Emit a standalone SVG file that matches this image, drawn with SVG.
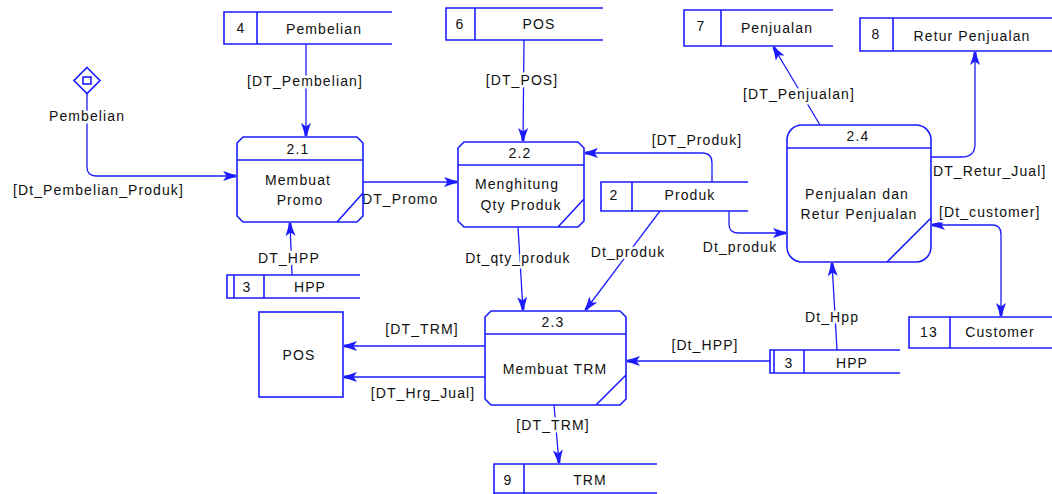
<svg xmlns="http://www.w3.org/2000/svg" width="1052" height="494" viewBox="0 0 1052 494">
<style>
  .ln { fill: none; stroke: #1c1cff; stroke-width: 1.3; }
  .box { fill: none; stroke: #1c1cff; stroke-width: 1.6; }
  text { font-family: "Liberation Sans", Arial, sans-serif; font-size: 14px; letter-spacing: 1.1px; fill: #111; }
  .m { text-anchor: middle; }
  .lbl { stroke: #fff; stroke-width: 5; stroke-linejoin: round; paint-order: stroke; }
</style>
<defs>
  <marker id="arr" viewBox="-14 -6 15 12" refX="0" refY="0" markerWidth="15" markerHeight="12" markerUnits="userSpaceOnUse" orient="auto-start-reverse">
    <path d="M0,-1.3 L-5,-2.2 L-13,-5 L-9.5,0 L-13,5 L-5,2.2 L0,1.3 Z" fill="#1c1cff"/>
  </marker>
</defs>
<rect width="1052" height="494" fill="#fff"/>

<g id="connectors">
  <path class="ln" d="M87,93 V167 Q87,176 96,176 H236" marker-end="url(#arr)"/>
  <path class="ln" d="M306,44 V136" marker-end="url(#arr)"/>
  <path class="ln" d="M363,182 H457" marker-end="url(#arr)"/>
  <path class="ln" d="M524,40 L523,141" marker-end="url(#arr)"/>
  <path class="ln" d="M712,182 V163 Q712,153 702,153 H585" marker-end="url(#arr)"/>
  <path class="ln" d="M729,211 V224 Q729,233 738,233 H786" marker-end="url(#arr)"/>
  <path class="ln" d="M660,211 L585.5,310" marker-end="url(#arr)"/>
  <path class="ln" d="M518,227 L523,310" marker-end="url(#arr)"/>
  <path class="ln" d="M820,125 L773.5,47" marker-end="url(#arr)"/>
  <path class="ln" d="M931,157 H962 Q975,157 975,144 V52" marker-end="url(#arr)"/>
  <path class="ln" d="M932,225 H992 Q1001,225 1001,234 V316" marker-start="url(#arr)" marker-end="url(#arr)"/>
  <path class="ln" d="M837,350 L832,263" marker-end="url(#arr)"/>
  <path class="ln" d="M770,361 H627" marker-end="url(#arr)"/>
  <path class="ln" d="M485,346 H344" marker-end="url(#arr)"/>
  <path class="ln" d="M485,377 H344" marker-end="url(#arr)"/>
  <path class="ln" d="M554,405 L559,463" marker-end="url(#arr)"/>
  <path class="ln" d="M292,275 L290,223" marker-end="url(#arr)"/>

  <text class="lbl m" x="87" y="121">Pembelian</text>
  <text class="lbl" x="13" y="195">[Dt_Pembelian_Produk]</text>
  <text class="lbl m" x="305" y="86">[DT_Pembelian]</text>
  <text class="lbl" x="362" y="204">DT_Promo</text>
  <text class="lbl m" x="522" y="85">[DT_POS]</text>
  <text class="lbl m" x="697" y="145">[DT_Produk]</text>
  <text class="lbl m" x="740" y="252">Dt_produk</text>
  <text class="lbl m" x="628" y="257">Dt_produk</text>
  <text class="lbl m" x="518" y="263">Dt_qty_produk</text>
  <text class="lbl m" x="799" y="99">[DT_Penjualan]</text>
  <text class="lbl" x="933" y="176">DT_Retur_Jual]</text>
  <text class="lbl" x="939" y="217">[Dt_customer]</text>
  <text class="lbl m" x="832" y="322">Dt_Hpp</text>
  <text class="lbl m" x="705" y="350">[Dt_HPP]</text>
  <text class="lbl m" x="289" y="263">DT_HPP</text>
  <text class="lbl m" x="422" y="334">[DT_TRM]</text>
  <text class="lbl m" x="423" y="398">[DT_Hrg_Jual]</text>
  <text class="lbl m" x="553" y="430">[DT_TRM]</text>
</g>

<g id="src-pembelian">
  <path class="box" d="M87,67.5 L100,80.5 L87,93.5 L74,80.5 Z"/>
  <rect class="box" x="83" y="77" width="8" height="7" stroke-width="1.3"/>
</g>

<g id="store-4">
  <path class="box" d="M392,12 H224 V44 H392 M257,12 V44"/>
  <text class="m" x="241" y="33">4</text>
  <text class="m" x="324" y="34">Pembelian</text>
</g>

<g id="store-6">
  <path class="box" d="M603,8 H446 V40 H603 M475,8 V40"/>
  <text class="m" x="460" y="29">6</text>
  <text class="m" x="539" y="29">POS</text>
</g>

<g id="store-7">
  <path class="box" d="M833,10 H684 V46 H833 M721,10 V46"/>
  <text class="m" x="701" y="31">7</text>
  <text class="m" x="777" y="33">Penjualan</text>
</g>

<g id="store-8">
  <path class="box" d="M1052,18 H860 V51 H1052 M893,18 V51"/>
  <text class="m" x="876" y="39">8</text>
  <text class="m" x="972" y="41">Retur Penjualan</text>
</g>

<g id="store-2">
  <path class="box" d="M748,182 H601 V211 H748 M632,182 V211"/>
  <text class="m" x="614" y="200">2</text>
  <text class="m" x="690" y="200">Produk</text>
</g>

<g id="store-3-left">
  <path class="box" d="M360,275 H227 V298 H360 M234,275 V298 M264,275 V298"/>
  <text class="m" x="247" y="292">3</text>
  <text class="m" x="310" y="292">HPP</text>
</g>

<g id="store-3-right">
  <path class="box" d="M900,350 H770 V373 H900 M774,350 V373 M804,350 V373"/>
  <text class="m" x="789" y="368">3</text>
  <text class="m" x="852" y="368">HPP</text>
</g>

<g id="store-13">
  <path class="box" d="M1052,317 H909 V348 H1052 M950,317 V348"/>
  <text class="m" x="929" y="337">13</text>
  <text class="m" x="1000" y="337">Customer</text>
</g>

<g id="store-9">
  <path class="box" d="M657,464 H494 V494 M494,493 H657 M524,464 V494"/>
  <text class="m" x="508" y="485">9</text>
  <text class="m" x="590" y="485">TRM</text>
</g>

<g id="entity-pos">
  <rect class="box" x="259" y="312" width="84" height="85"/>
  <text class="m" x="299" y="360">POS</text>
</g>

<g id="proc-2-1">
  <path class="box" d="M243,137 H357 L363,143 V216 L357,222 H243 L237,216 V143 Z M237,160 H363 M337,222 L363,193"/>
  <text class="m" x="298" y="154">2.1</text>
  <text class="m" x="298" y="185">Membuat</text>
  <text class="m" x="300" y="205">Promo</text>
</g>

<g id="proc-2-2">
  <path class="box" d="M464,142 H578 L584,148 V221 L578,227 H464 L458,221 V148 Z M458,165 H584 M558,227 L584,199"/>
  <text class="m" x="520" y="158">2.2</text>
  <text class="m" x="517" y="189">Menghitung</text>
  <text class="m" x="521" y="210">Qty Produk</text>
</g>

<g id="proc-2-3">
  <path class="box" d="M491,311 H620 L626,317 V399 L620,405 H491 L485,399 V317 Z M485,334 H626 M596,405 L626,375"/>
  <text class="m" x="553" y="327">2.3</text>
  <text class="m" x="555" y="374">Membuat TRM</text>
</g>

<g id="proc-2-4">
  <rect class="box" x="787" y="125" width="144" height="137" rx="15" ry="15"/>
  <path class="box" d="M787,148 H931 M887,262 L931,218"/>
  <text class="m" x="858" y="141">2.4</text>
  <text class="m" x="857" y="199">Penjualan dan</text>
  <text class="m" x="859" y="219">Retur Penjualan</text>
</g>
</svg>
